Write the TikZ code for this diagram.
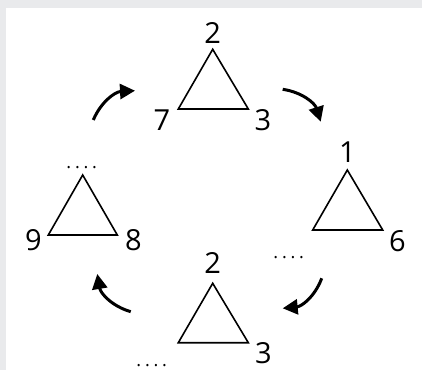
\documentclass[tikz,border=0pt]{standalone}
\usepackage{fontspec}
\setmainfont{Open Sans}
\usetikzlibrary{arrows.meta}
\definecolor{bggray}{HTML}{E9EAEC}
\tikzset{
  tri/.style={draw=black, line width=1.6pt, line join=miter},
  num/.style={font=\fontsize{29}{29}\selectfont, inner sep=0pt},
  dots/.style={font=\fontsize{18}{18}\selectfont, inner sep=0pt, anchor=base},
  cyc/.style={line width=3pt, -{Triangle[length=15pt,width=15pt]}, bend left=32}
}
\newcommand{\fourdots}{.\kern3.8pt.\kern3.8pt.\kern3.8pt.}
\begin{document}
\begin{tikzpicture}[x=1pt,y=1pt]
\fill[bggray] (0,0) rectangle (422,370);
\fill[white] (6,0) rectangle (422,362);
\useasboundingbox (0,0) rectangle (422,370);
% top triangle
\coordinate (ta) at (212.7,320.7);
\coordinate (tl) at (178.3,261);
\coordinate (tr) at (248.3,261);
\draw[tri] (ta) -- (tl) -- (tr) -- cycle;
\node[num] (t2) at (212.7,336.7) {2};
\node[num] (t7) at (162,250) {7};
\node[num] (t3) at (263,250) {3};
% right triangle
\coordinate (ra) at (347.3,200);
\coordinate (rl) at (312.7,140);
\coordinate (rr) at (382.7,140);
\draw[tri] (ra) -- (rl) -- (rr) -- cycle;
\node[num] (r1) at (347.3,218.3) {1};
\node[num] (r6) at (397.3,129.3) {6};
\node[dots] (rd) at (288.7,111.5) {\fourdots};
% left triangle
\coordinate (la) at (82.7,195);
\coordinate (ll) at (48.3,135);
\coordinate (lr) at (117.3,135);
\draw[tri] (la) -- (ll) -- (lr) -- cycle;
\node[dots] (ld) at (81.7,201.8) {\fourdots};
\node[num] (l9) at (33.3,130) {9};
\node[num] (l8) at (133.3,130) {8};
% bottom triangle
\coordinate (ba) at (212.7,86.7);
\coordinate (bl) at (178.3,27.3);
\coordinate (br) at (248.3,27.3);
\draw[tri] (ba) -- (bl) -- (br) -- cycle;
\node[num] (b2) at (212.7,106.7) {2};
\node[num] (b3) at (263.3,16.7) {3};
\node[dots] (bd) at (151.7,3.5) {\fourdots};
% cycle arrows
\coordinate (a1s) at (93.3,250);
\coordinate (a1e) at (135,279.3);
\coordinate (a2s) at (282.7,280.7);
\coordinate (a2e) at (320.7,248.3);
\coordinate (a3s) at (321.7,91.7);
\coordinate (a3e) at (282.7,61.7);
\coordinate (a4s) at (130.7,58.3);
\coordinate (a4e) at (97.3,96);
\draw[cyc] (a1s) to (a1e);
\draw[cyc] (a2s) to (a2e);
\draw[cyc] (a3s) to (a3e);
\draw[cyc] (a4s) to (a4e);
\end{tikzpicture}
\end{document}
